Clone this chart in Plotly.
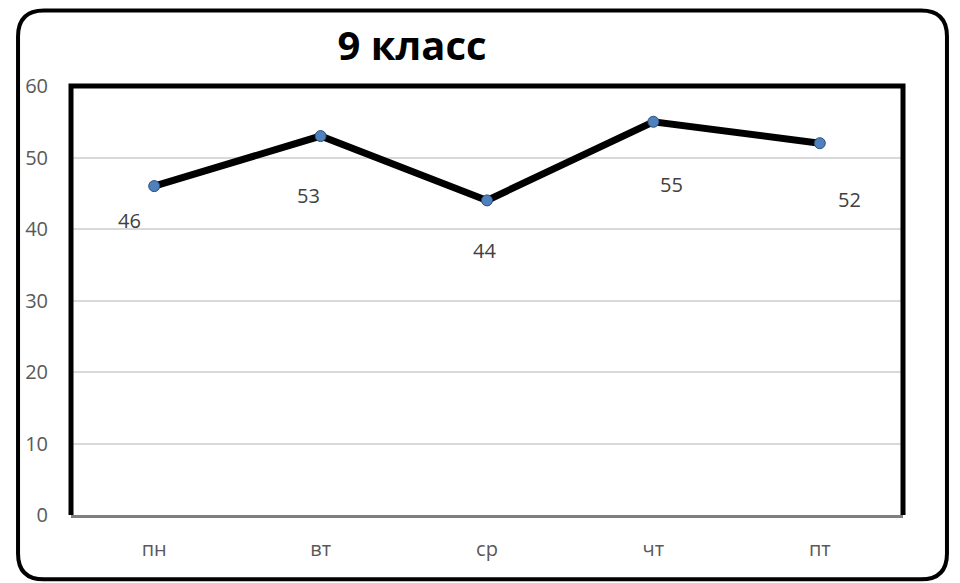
import plotly.graph_objects as go

categories = ["пн", "вт", "ср", "чт", "пт"]
values = [46, 53, 44, 55, 52]
y_ticks = [0, 10, 20, 30, 40, 50, 60]
title_text = "9 класс"

# label offsets (pixels) as in the reference
label_dx = [-25, -12, -3, 18, 30]
label_dy = [-34, -59, -50, -63, -56]

W, H = 960, 583
# figure coordinates (page is offset 8px by body margin)
L, R, T, B = 62.5, 895, 77.5, 507.5


def px(x):
    return (x - L) / (R - L)


def py(y):
    return (B - y) / (B - T)


fig = go.Figure()
fig.add_trace(go.Scatter(
    x=categories, y=values, mode="lines+markers",
    line=dict(color="black", width=7),
    marker=dict(size=11, color="#4f81bd", line=dict(color="#2c4d75", width=1)),
    showlegend=False, hoverinfo="skip",
))

for c, v, dx, dy in zip(categories, values, label_dx, label_dy):
    fig.add_annotation(x=c, y=v, text=str(v), showarrow=False,
                       xshift=dx, yshift=dy,
                       font=dict(family="Open Sans", size=20, color="#404040"))

# outer rounded border
x0, x1, y0, y1, r = 9.5, 939, 1.8, 572, 26
path = (f"M {px(x0+r)},{py(y0)} L {px(x1-r)},{py(y0)} "
        f"Q {px(x1)},{py(y0)} {px(x1)},{py(y0+r)} "
        f"L {px(x1)},{py(y1-r)} Q {px(x1)},{py(y1)} {px(x1-r)},{py(y1)} "
        f"L {px(x0+r)},{py(y1)} Q {px(x0)},{py(y1)} {px(x0)},{py(y1-r)} "
        f"L {px(x0)},{py(y0+r)} Q {px(x0)},{py(y0)} {px(x0+r)},{py(y0)} Z")
fig.add_shape(type="path", xref="paper", yref="paper", path=path,
              line=dict(color="black", width=4), layer="above")

# plot area border: left, top, right
fig.add_shape(type="path", xref="paper", yref="paper",
              path="M 0,0 L 0,1 L 1,1 L 1,0",
              line=dict(color="black", width=5), layer="above")

fig.update_layout(
    width=W, height=H,
    margin=dict(l=L, r=W - R, t=T, b=H - B),
    plot_bgcolor="white", paper_bgcolor="white",
    title=dict(text=f"<b>{title_text}</b>", x=404 / W, xanchor="center",
               y=1 - 38 / H, yanchor="middle",
               font=dict(family="Open Sans", size=40, color="black")),
    xaxis=dict(showgrid=False, showline=True, linecolor="#7f7f7f", linewidth=3,
               ticks="", tickfont=dict(family="Open Sans", size=20, color="#595959"),
               ticklabelstandoff=14, range=[-0.5, 4.5], fixedrange=True),
    yaxis=dict(range=[0, 60], tickvals=y_ticks, showgrid=True, gridcolor="#d9d9d9",
               gridwidth=1.5, zeroline=False, showline=False, ticks="",
               tickfont=dict(family="Open Sans", size=20, color="#595959"),
               ticklabelstandoff=22, fixedrange=True),
)

fig.write_html("out.html")
